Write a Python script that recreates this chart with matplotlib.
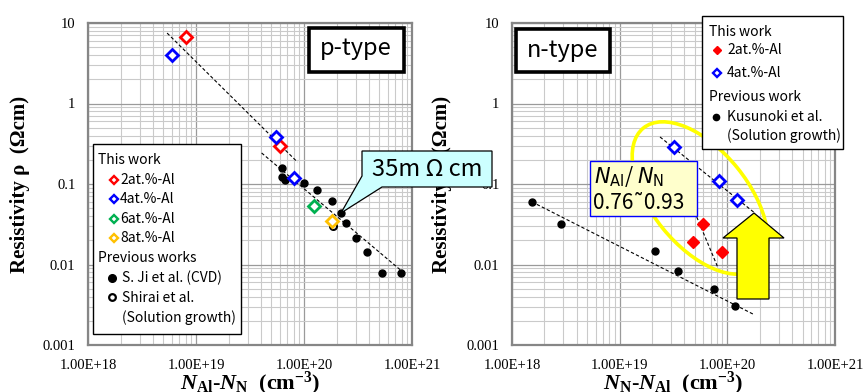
import matplotlib

matplotlib.use("Agg")
import matplotlib.pyplot as plt
from matplotlib.lines import Line2D
from matplotlib.patches import Polygon, Ellipse, Rectangle
from matplotlib.ticker import FixedLocator, LogLocator, NullFormatter

W, H = 863, 392

plt.rcParams["mathtext.fontset"] = "custom"
plt.rcParams["mathtext.it"] = "Liberation Serif:italic:bold"
plt.rcParams["mathtext.rm"] = "Liberation Serif:bold"
plt.rcParams["mathtext.bf"] = "Liberation Serif:bold"

GOTHIC = ["Noto Sans CJK JP", "DejaVu Sans"]
SERIF = "Liberation Serif"

RED = "#FF0000"
BLUE = "#0000FF"
GREEN = "#00B050"
ORANGE = "#FFC000"

# ---------------- data: p-type ----------------
P_2AL_X = [8.0e18, 6.0e19]
P_2AL_Y = [6.7, 0.296]
P_4AL_X = [6.0e18, 5.45e19, 8.0e19]
P_4AL_Y = [4.0, 0.384, 0.119]
P_6AL_X = [1.25e20]
P_6AL_Y = [0.0533]
P_8AL_X = [1.83e20]
P_8AL_Y = [0.0347]
P_JI_X = [6.2e19, 6.3e19, 6.6e19, 1.0e20, 1.32e20, 1.82e20, 2.2e20,
          2.46e20, 3.0e20, 3.8e20, 5.3e20, 7.9e20]
P_JI_Y = [0.158, 0.123, 0.112, 0.103, 0.084, 0.061, 0.0436,
          0.033, 0.0214, 0.0143, 0.0079, 0.0079]
P_SHIRAI_X = [1.85e20]
P_SHIRAI_Y = [0.030]
P_FIT1_X = [5.4e18, 8.7e19]
P_FIT1_Y = [7.5, 0.187]
P_FIT2_X = [4.05e19, 8.45e20]
P_FIT2_Y = [0.243, 0.00783]

# ---------------- data: n-type ----------------
N_KUS_X = [1.53e18, 2.85e18, 2.14e19, 3.46e19, 7.5e19, 1.17e20]
N_KUS_Y = [0.0597, 0.0318, 0.0148, 0.0083, 0.0050, 0.00305]
N_2AL_X = [4.8e19, 6.0e19, 8.9e19]
N_2AL_Y = [0.019, 0.0318, 0.0143]
N_4AL_X = [3.2e19, 8.3e19, 1.23e20]
N_4AL_Y = [0.288, 0.109, 0.063]
N_FIT_KUS_X = [1.53e18, 1.8e20]
N_FIT_KUS_Y = [0.06, 0.00236]
N_FIT_4AL_X = [2.37e19, 1.8e20]
N_FIT_4AL_Y = [0.384, 0.0436]
N_FIT_2AL_X = [5.2e19, 8.2e19]
N_FIT_2AL_Y = [0.0389, 0.00906]

X_TICKS = [1e18, 1e19, 1e20, 1e21]
X_TICK_LABELS = ["1.00E+18", "1.00E+19", "1.00E+20", "1.00E+21"]
Y_TICKS = [1e-3, 1e-2, 1e-1, 1, 10]
Y_TICK_LABELS = ["0.001", "0.01", "0.1", "1", "10"]


def fx(x):
    return x / W


def fy(y):
    return 1 - y / H


fig = plt.figure(figsize=(W / 100, H / 100), dpi=100)
ax_p = fig.add_axes([fx(88), fy(345), 324 / W, 322 / H])
ax_n = fig.add_axes([fx(512), fy(345), 323 / W, 322 / H])


def style_axes(ax, xlabel):
    ax.set_xscale("log")
    ax.set_yscale("log")
    ax.set_xlim(1e18, 1e21)
    ax.set_ylim(1e-3, 10)
    ax.xaxis.set_major_locator(FixedLocator(X_TICKS))
    ax.yaxis.set_major_locator(FixedLocator(Y_TICKS))
    ax.xaxis.set_minor_locator(LogLocator(base=10, subs=range(2, 10)))
    ax.yaxis.set_minor_locator(LogLocator(base=10, subs=range(2, 10)))
    ax.xaxis.set_minor_formatter(NullFormatter())
    ax.yaxis.set_minor_formatter(NullFormatter())
    ax.set_xticklabels(X_TICK_LABELS, fontfamily=SERIF, fontsize=10.5)
    ax.set_yticklabels(Y_TICK_LABELS, fontfamily=SERIF, fontsize=10.5)
    ax.tick_params(which="both", length=0)
    ax.tick_params(axis="x", pad=10)
    ax.tick_params(axis="y", pad=9)
    ax.grid(True, which="major", color="#9A9A9A", linewidth=0.9)
    ax.grid(True, which="minor", color="#CACACA", linewidth=0.8)
    ax.set_axisbelow(True)
    for s in ax.spines.values():
        s.set_color("#868686")
        s.set_linewidth(1.6)
    ax.set_ylabel("Resistivity ρ  (Ωcm)", fontfamily=SERIF,
                  fontweight="bold", fontsize=15)
    ax.yaxis.set_label_coords(-0.178, 0.5)
    ax.set_xlabel(xlabel, fontfamily=SERIF, fontweight="bold", fontsize=16,
                  math_fontfamily="custom")
    ax.xaxis.set_label_coords(0.5, -0.078)


dash = dict(color="black", linestyle=(0, (3, 2)), linewidth=0.8, zorder=2)
open_d = dict(linestyle="none", marker="D", markersize=6.3, mfc="white",
              markeredgewidth=2.0, zorder=4)

# ---------------- p-type ----------------
style_axes(ax_p, r"$N_{\mathrm{Al}}$-$N_{\mathrm{N}}$  (cm$^{\mathrm{-3}}$)")
ax_p.plot(P_FIT1_X, P_FIT1_Y, **dash)
ax_p.plot(P_FIT2_X, P_FIT2_Y, **dash)
ax_p.plot(P_JI_X, P_JI_Y, "o", color="black", markersize=5, zorder=3)
ax_p.plot(P_SHIRAI_X, P_SHIRAI_Y, "o", mfc="white", mec="black",
          markersize=5, mew=1.5, zorder=3)
ax_p.plot(P_2AL_X, P_2AL_Y, mec=RED, **open_d)
ax_p.plot(P_4AL_X, P_4AL_Y, mec=BLUE, **open_d)
ax_p.plot(P_6AL_X, P_6AL_Y, mec=GREEN, **open_d)
ax_p.plot(P_8AL_X, P_8AL_Y, mec=ORANGE, **open_d)

# ---------------- n-type ----------------
style_axes(ax_n, r"$N_{\mathrm{N}}$-$N_{\mathrm{Al}}$  (cm$^{\mathrm{-3}}$)")
ax_n.yaxis.set_label_coords(-0.186, 0.5)
ax_n.plot(N_FIT_KUS_X, N_FIT_KUS_Y, **dash)
ax_n.plot(N_FIT_4AL_X, N_FIT_4AL_Y, **dash)
ax_n.plot(N_FIT_2AL_X, N_FIT_2AL_Y, **dash)
ax_n.plot(N_KUS_X, N_KUS_Y, "o", color="black", markersize=5, zorder=3)
ax_n.plot(N_2AL_X, N_2AL_Y, "D", color=RED, markersize=6.3, zorder=4)
ax_n.plot(N_4AL_X, N_4AL_Y, mec=BLUE, **open_d)


# ---------------- annotations (figure pixel coordinates) ----------------
def box(x0, y0, x1, y1, fc="white", ec="black", lw=1.0, z=5):
    fig.add_artist(Rectangle((fx(x0), fy(y1)), fx(x1) - fx(x0), fy(y0) - fy(y1),
                             transform=fig.transFigure, facecolor=fc,
                             edgecolor=ec, linewidth=lw, zorder=z))


def ftext(x, y, s, size=10, ha="left", z=7, **kw):
    fig.text(fx(x), fy(y), s, fontsize=size, ha=ha, va="center",
             family=GOTHIC, zorder=z, **kw)


def fmark(x, y, **kw):
    fig.add_artist(Line2D([fx(x)], [fy(y)], transform=fig.transFigure,
                          linestyle="none", zorder=7, **kw))


# type boxes
box(309, 28, 404, 72, lw=2.6)
ftext(356, 49, "p-type", size=17, ha="center")
box(516, 29, 610, 72, lw=2.6)
ftext(563, 50, "n-type", size=17, ha="center")

# left legend
box(93, 144, 241, 334, lw=1.0)
ftext(98, 160, "This work")
leg_p = [("2at.%-Al", RED, 180), ("4at.%-Al", BLUE, 199),
         ("6at.%-Al", GREEN, 219), ("8at.%-Al", ORANGE, 238)]
for lab, col, yy in leg_p:
    fmark(114, yy, marker="D", markersize=4.2, mfc="white", mec=col, mew=1.7)
    ftext(120, yy, lab)
ftext(98, 258, "Previous works")
fmark(112, 278, marker="o", markersize=5.5, color="black")
ftext(122, 278, "S. Ji et al. (CVD)")
fmark(112, 297, marker="o", markersize=4.8, mfc="white", mec="black", mew=1.6)
ftext(122, 298, "Shirai et al.")
ftext(122, 318, "(Solution growth)")

# right legend
box(702, 16, 843, 149, lw=1.0)
ftext(709, 32, "This work")
fmark(717, 50, marker="D", markersize=4.5, color=RED)
ftext(727, 50, "2at.%-Al")
fmark(717, 73, marker="D", markersize=4.2, mfc="white", mec=BLUE, mew=1.7)
ftext(727, 73, "4at.%-Al")
ftext(709, 97, "Previous work")
fmark(716, 117, marker="o", markersize=4.5, color="black")
ftext(727, 117, "Kusunoki et al.")
ftext(727, 136, "(Solution growth)")

# 35 mOhm cm callout
fig.add_artist(Polygon([(fx(362), fy(151)), (fx(492), fy(151)), (fx(492), fy(187)),
                        (fx(382), fy(187)), (fx(341), fy(213)), (fx(362), fy(176))],
                       closed=True, transform=fig.transFigure, facecolor="#CCFFFF",
                       edgecolor="black", linewidth=0.9, zorder=5))
ftext(427, 169, "35m Ω cm", size=17, ha="center")

# yellow ellipse and arrow
fig.add_artist(Ellipse((7.00, (H - 198) / 100), 1.80, 0.96, angle=-51,
                       transform=fig.dpi_scale_trans, fill=False,
                       edgecolor="#FFFF00", linewidth=2.6, zorder=4))
fig.add_artist(Polygon([(fx(754), fy(213)), (fx(784), fy(238)), (fx(769), fy(238)),
                        (fx(769), fy(299)), (fx(737), fy(299)), (fx(737), fy(238)),
                        (fx(723), fy(238))],
                       closed=True, transform=fig.transFigure, facecolor="#FFFF00",
                       edgecolor="black", linewidth=0.9, zorder=5))

# N_Al / N_N box
box(590, 161, 697, 216, fc="#FFFFCC", ec=BLUE, lw=1.0, z=5)
fig.text(fx(594), fy(176), r"$\mathit{N}_{\mathrm{Al}}$/ $\mathit{N}_{\mathrm{N}}$",
         fontsize=15, ha="left", va="center", family=GOTHIC,
         math_fontfamily="dejavusans", zorder=7)
ftext(593, 203, "0.76˜0.93", size=15)

fig.savefig("out.png", dpi=100)
